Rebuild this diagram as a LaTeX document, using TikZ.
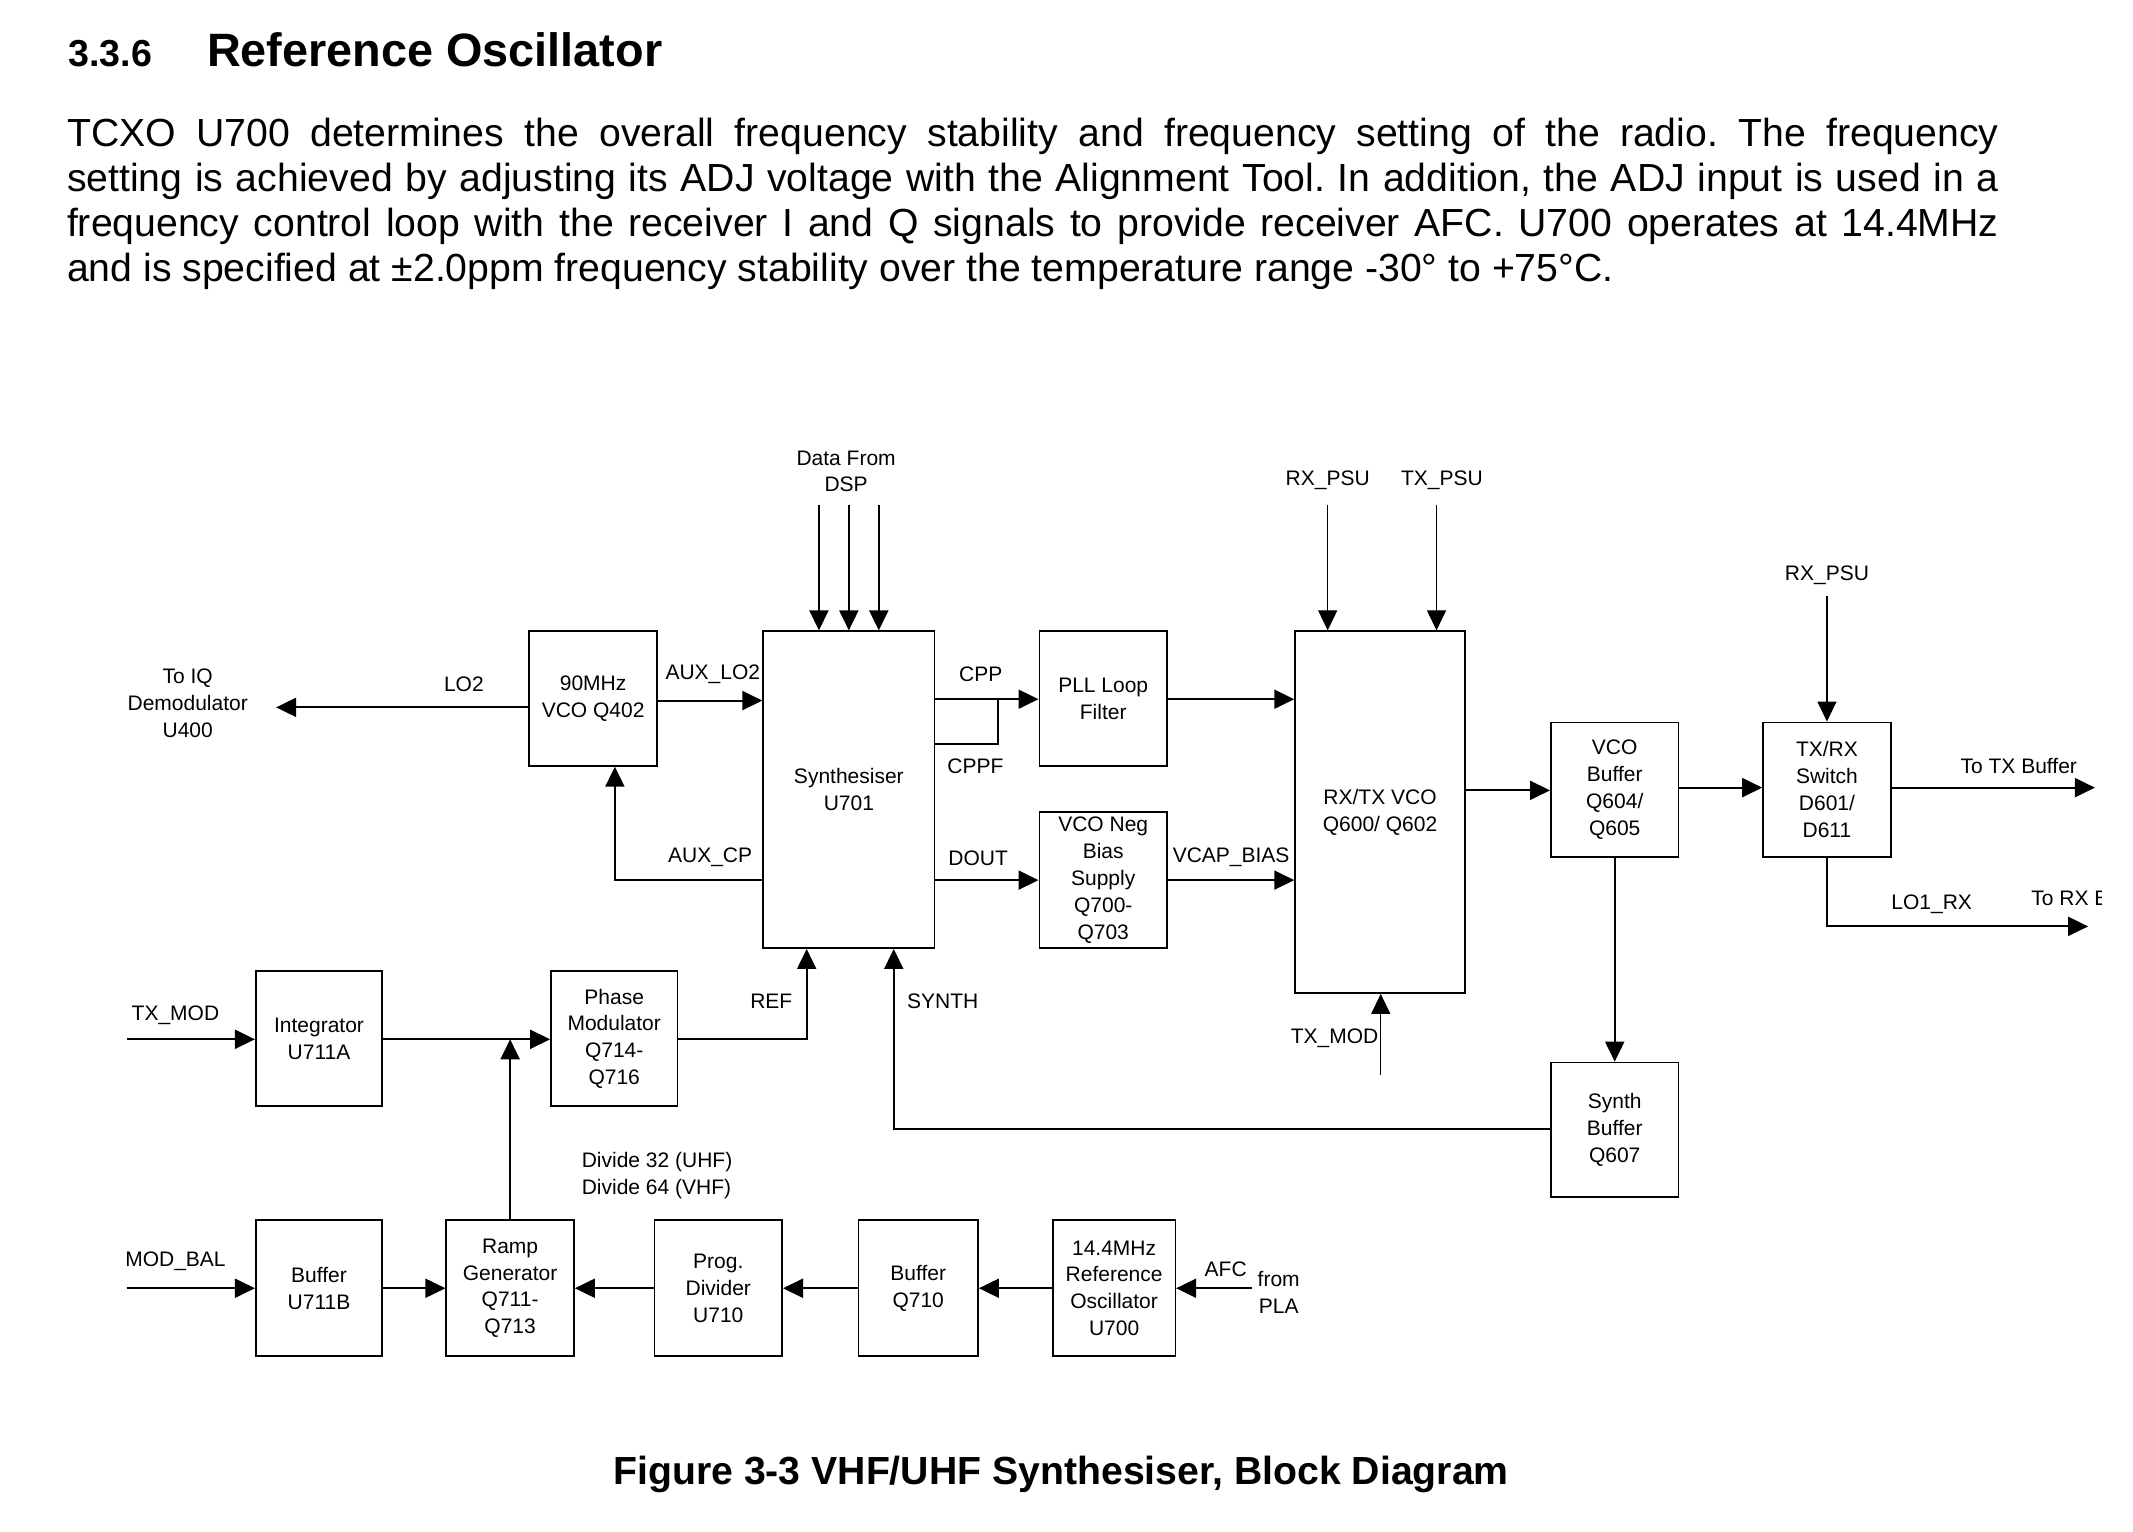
\documentclass[tikz,border=0pt]{standalone}
\usepackage{fontspec}
\setmainfont{Liberation Sans}
\usetikzlibrary{arrows.meta}
\frenchspacing
\def\myu{0.68015pt}
\newcommand\dfont{\fontsize{10.5}{13.4}\selectfont}
\newcommand\pfont{\fontsize{19.6}{22.6}\selectfont}
\tikzset{
  blk/.style={draw, line width=0.8pt, align=center, font=\dfont, inner sep=1pt},
  bx/.style n args={2}{minimum width=#1*\myu, minimum height=#2*\myu},
  lbl/.style={font=\dfont, align=center, inner sep=0pt},
  wire/.style={line width=1pt},
  conn/.style={line width=1pt, -{Triangle[length=10pt,width=9.5pt]}},
  thinconn/.style={line width=0.6pt, -{Triangle[length=10pt,width=9.5pt]}},
  ptext/.style={font=\pfont, inner sep=0pt, anchor=base west},
}
\begin{document}
\begin{tikzpicture}[x=0.68015pt, y=-0.68015pt]
\useasboundingbox (0,0) rectangle (1568,1125.5);
% heading and paragraph
\node[inner sep=0pt, anchor=base west, font=\fontsize{18.8}{22}\selectfont\bfseries] (hnum) at (50,49) {3.3.6};
\node[inner sep=0pt, anchor=base west, font=\fontsize{23.4}{28}\selectfont\bfseries] (htitle) at (152,49) {Reference Oscillator};
\node[ptext] (p1) at (49,108) {\makebox[965.8pt][s]{TCXO U700 determines the overall frequency stability and frequency setting of the radio. The frequency}};
\node[ptext] (p2) at (49,141) {\makebox[965.8pt][s]{setting is achieved by adjusting its ADJ voltage with the Alignment Tool. In addition, the ADJ input is used in a}};
\node[ptext] (p3) at (49,174) {\makebox[965.8pt][s]{frequency control loop with the receiver I and Q signals to provide receiver AFC. U700 operates at 14.4MHz}};
\node[ptext] (p4) at (49,207) {and is specified at ±2.0ppm frequency stability over the temperature range -30° to +75°C.};
\node[inner sep=0pt, anchor=base, font=\fontsize{19.6}{23}\selectfont\bfseries] (cap) at (780,1091) {Figure 3-3 VHF/UHF Synthesiser, Block Diagram};

% blocks
\node[blk, bx={94}{99}] (vco2) at (436,513.5) {90MHz\\VCO Q402};
\node[blk, bx={126}{233}] (syn) at (624,580.5) {Synthesiser\\U701};
\node[blk, bx={94}{99}] (pll) at (811,513.5) {PLL Loop\\Filter};
\node[blk, bx={94}{100}] (neg) at (811,647) {VCO Neg\\Bias\\Supply\\Q700-\\Q703};
\node[blk, bx={125}{266}] (vco) at (1014.5,597) {RX/TX VCO\\Q600/ Q602};
\node[blk, bx={94}{99}] (vbuf) at (1187,580.5) {VCO\\Buffer\\Q604/\\Q605};
\node[blk, bx={94}{99}] (sw) at (1343,580.5) {TX/RX\\Switch\\D601/\\D611};
\node[blk, bx={94}{99}] (sbuf) at (1187,830.5) {Synth\\Buffer\\Q607};
\node[blk, bx={93}{99}] (integ) at (234.5,763.5) {Integrator\\U711A};
\node[blk, bx={93}{99}] (pmod) at (451.5,763.5) {Phase\\Modulator\\Q714-\\Q716};
\node[blk, bx={93}{100}] (buf1) at (234.5,947) {Buffer\\U711B};
\node[blk, bx={94}{100}] (ramp) at (375,947) {Ramp\\Generator\\Q711-\\Q713};
\node[blk, bx={94}{100}] (prog) at (528,947) {Prog.\\Divider\\U710};
\node[blk, bx={88}{100}] (buf2) at (675,947) {Buffer\\Q710};
\node[blk, bx={90}{100}] (osc) at (819,947) {14.4MHz\\Reference\\Oscillator\\U700};

% free ends and bend points
\coordinate (iq) at (203,520);
\coordinate (yaux) at (0,515);
\coordinate (cp) at (452,647);
\coordinate (d1) at (602,371);
\coordinate (d2) at (624,371);
\coordinate (d3) at (646,371);
\coordinate (ycpp) at (0,514);
\coordinate (cppf) at (734,547);
\coordinate (rxp) at (976,371);
\coordinate (txp) at (1056,371);
\coordinate (txm) at (1015,790);
\coordinate (yv) at (0,581);
\coordinate (yb) at (0,579);
\coordinate (rxp2) at (1343,438);
\coordinate (totx) at (1540,579);
\coordinate (lo1) at (1343,681);
\coordinate (torx) at (1535,681);
\coordinate (syc) at (657,830);
\coordinate (refc) at (593,764);
\coordinate (txin) at (93,764);
\coordinate (mbin) at (93,947);
\coordinate (afc) at (920,947);

% labels
\node[lbl] (liq) at (138,517) {To IQ\\Demodulator\\U400};
\node[lbl] (llo2) at (341,503) {LO2};
\node[lbl] (laux) at (524,496) {AUX\_LO2};
\node[lbl] (lcp) at (522,630) {AUX\_CP};
\node[lbl] (ldsp) at (622,346.5) {Data From\\DSP};
\node[lbl] (lcpp) at (721,496) {CPP};
\node[lbl] (lcppf) at (717,563) {CPPF};
\node[lbl] (ldout) at (719,631) {DOUT};
\node[lbl] (lvcap) at (905,630) {VCAP\_BIAS};
\node[lbl] (lrxp) at (976,353) {RX\_PSU};
\node[lbl] (ltxp) at (1060,353) {TX\_PSU};
\node[lbl] (ltxm) at (981,763) {TX\_MOD};
\node[lbl] (lrxp2) at (1343,423) {RX\_PSU};
\node[lbl] (ltotx) at (1484,563) {To TX Buffer};
\node[lbl] (llo1) at (1420,665) {LO1\_RX};
\node[lbl] (lsyn) at (693,736) {SYNTH};
\node[lbl] (lref) at (567,736) {REF};
\node[lbl] (ltxm2) at (129,746) {TX\_MOD};
\node[lbl] (lmb) at (129,927) {MOD\_BAL};
\node[lbl, align=left] (ldiv) at (483,864) {Divide 32 (UHF)\\Divide 64 (VHF)};
\node[lbl] (lafc) at (901,933) {AFC};
\node[lbl] (lpla) at (940,950) {from\\PLA};
\begin{scope}
\clip (0,0) rectangle (1545,1125.5);
\node[lbl, anchor=west] (ltorx) at (1493,660) {To RX Buffer};
\end{scope}

% connectors
\draw[conn] (vco2.west |- iq) -- (iq);
\draw[conn] (vco2.east |- yaux) -- (syn.west |- yaux);
\draw[conn] (syn.west |- cp) -- (cp) -- (cp |- vco2.south);
\draw[conn] (d1) -- (d1 |- syn.north);
\draw[conn] (d2) -- (d2 |- syn.north);
\draw[conn] (d3) -- (d3 |- syn.north);
\draw[conn] (syn.east |- ycpp) -- (pll.west |- ycpp);
\draw[wire] (syn.east |- cppf) -- (cppf) -- (cppf |- ycpp);
\draw[conn] (pll.east |- ycpp) -- (vco.west |- ycpp);
\draw[conn] (syn.east |- neg.west) -- (neg.west);
\draw[conn] (neg.east) -- (vco.west |- neg.east);
\draw[thinconn] (rxp) -- (rxp |- vco.north);
\draw[thinconn] (txp) -- (txp |- vco.north);
\draw[thinconn] (txm) -- (txm |- vco.south);
\draw[conn] (vco.east |- yv) -- (vbuf.west |- yv);
\draw[conn] (vbuf.east |- yb) -- (sw.west |- yb);
\draw[thinconn] (rxp2) -- (sw.north);
\draw[conn] (sw.east |- totx) -- (totx);
\draw[conn] (sw.south) -- (lo1) -- (torx);
\draw[conn] (vbuf.south) -- (sbuf.north);
\draw[conn] (sbuf.west |- syc) -- (syc) -- (syc |- syn.south);
\draw[conn] (pmod.east |- refc) -- (refc) -- (refc |- syn.south);
\draw[conn] (txin) -- (integ.west |- txin);
\draw[conn] (integ.east |- txin) -- (pmod.west |- txin);
\draw[conn] (ramp.north) -- (ramp.north |- txin);
\draw[conn] (mbin) -- (buf1.west);
\draw[conn] (buf1.east) -- (ramp.west);
\draw[conn] (prog.west) -- (ramp.east);
\draw[conn] (buf2.west) -- (prog.east);
\draw[conn] (osc.west) -- (buf2.east);
\draw[conn] (afc) -- (osc.east);
\end{tikzpicture}
\end{document}
